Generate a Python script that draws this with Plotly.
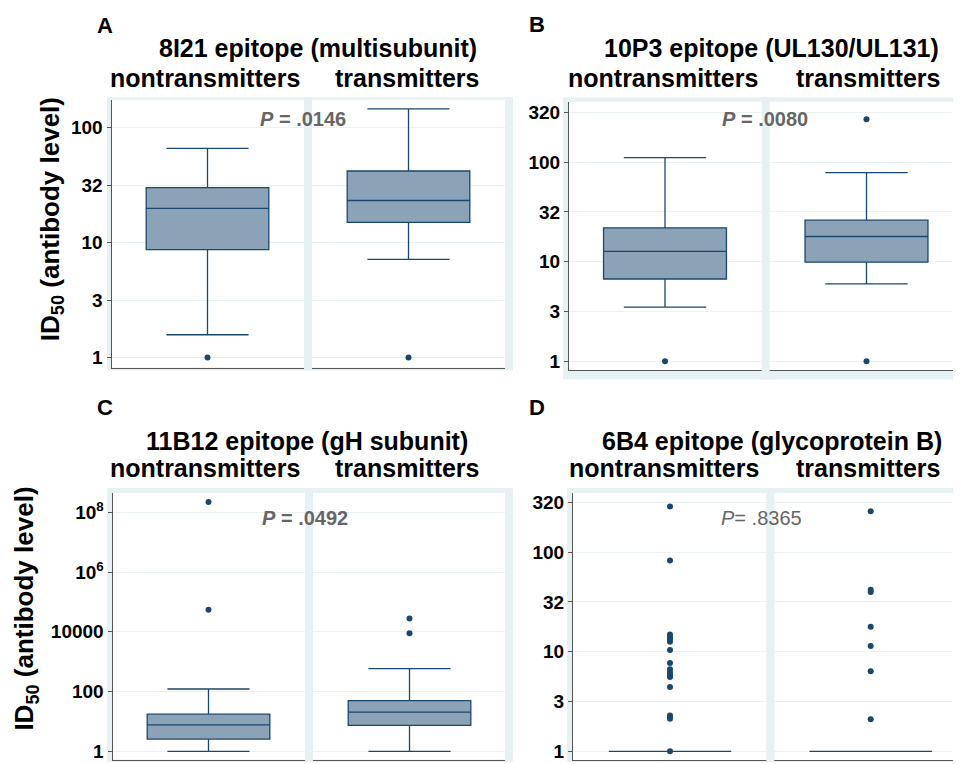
import plotly.graph_objects as go

# The page body has an 8px margin, so the figure is made 8px smaller and
# every pixel position is shifted by that margin.
PAGE_W, PAGE_H = 961, 764
OFF = 8
W, H = PAGE_W - OFF, PAGE_H - OFF

# ---------------- data ----------------
groups = ["nontransmitters", "transmitters"]
group_pos = [0, 1]

# Panel A: 8I21 epitope
a_title = "8I21 epitope (multisubunit)"
a_lowerfence = [1.58, 7.15]
a_q1 = [8.7, 15.0]
a_median = [19.8, 23.2]
a_q3 = [30.0, 41.9]
a_upperfence = [66.0, 145.0]
a_out_non = [1.0]
a_out_tr = [1.0]
a_pval = ".0146"

# Panel B: 10P3 epitope
b_title = "10P3 epitope (UL130/UL131)"
b_lowerfence = [3.5, 6.0]
b_q1 = [6.7, 9.9]
b_median = [12.7, 17.9]
b_q3 = [21.9, 26.1]
b_upperfence = [110.7, 78.3]
b_out_non = [1.0]
b_out_tr = [1.0, 269.0]
b_pval = ".0080"

# Panel C: 11B12 epitope
c_title = "11B12 epitope (gH subunit)"
c_lowerfence = [1.0, 1.0]
c_q1 = [2.57, 7.4]
c_median = [7.7, 20.4]
c_q3 = [17.5, 50.0]
c_upperfence = [122.0, 585.0]
c_out_non = [55000.0, 2.2e8]
c_out_tr = [8980.0, 27700.0]
c_pval = ".0492"

# Panel D: 6B4 epitope
d_title = "6B4 epitope (glycoprotein B)"
d_lowerfence = [1.0, 1.0]
d_q1 = [1.0, 1.0]
d_median = [1.0, 1.0]
d_q3 = [1.0, 1.0]
d_upperfence = [1.0, 1.0]
d_out_non = [1.0, 2.12, 2.2, 2.29, 4.43, 5.58, 5.84, 6.2, 6.66, 7.7, 10.4,
             12.6, 13.4, 14.1, 14.9, 82.5, 288.0]
d_out_tr = [2.1, 6.36, 11.4, 17.8, 39.8, 42.0, 257.0]
d_pval = ".8365"

# tick values / labels
half_dec_vals = [1, 3.1623, 10, 31.623, 100, 316.23]
half_dec_text = ["1", "3", "10", "32", "100", "320"]
c_tickvals = [1, 100, 1e4, 1e6, 1e8]
c_ticktext = ["1", "100", "10000", "10<sup>6</sup>", "10<sup>8</sup>"]

ytitle = "ID<sub>50</sub> (antibody level)"

# ---------------- styling ----------------
NAVY = "rgb(26,71,111)"
BOXFILL = "rgb(140,163,183)"
FRAME = "rgb(231,240,243)"
GRID = "rgb(234,242,244)"
AXIS = "#555555"
PGRAY = "#666666"
FONT = "Liberation Sans"

# pixel geometry of each panel (page pixels)
panels = [
    dict(key="A", title=a_title, lf=a_lowerfence, q1=a_q1, med=a_median, q3=a_q3, uf=a_upperfence,
         out=[a_out_non, a_out_tr], p=a_pval, pbold=True,
         plot=(111.5, 505, 99, 368), centers=(207.5, 408.5), one=358, ppd=115.5,
         frame=(107, 513, 96.5, 371), tv=half_dec_vals, tt=half_dec_text,
         letter=(105, 25), title_xy=(318, 47), sub_y=77, sub_x=(204.5, 407),
         p_xy=(303, 118), ytitle=(51, 219)),
    dict(key="B", title=b_title, lf=b_lowerfence, q1=b_q1, med=b_median, q3=b_q3, uf=b_upperfence,
         out=[b_out_non, b_out_tr], p=b_pval, pbold=True,
         plot=(569, 964, 101, 370.5), centers=(665, 866.5), one=361.7, ppd=100,
         frame=(563, 964, 96.5, 380), tv=half_dec_vals, tt=half_dec_text,
         letter=(536.5, 24), title_xy=(771.5, 47), sub_y=77, sub_x=(663, 868),
         p_xy=(765, 118), ytitle=None),
    dict(key="C", title=c_title, lf=c_lowerfence, q1=c_q1, med=c_median, q3=c_q3, uf=c_upperfence,
         out=[c_out_non, c_out_tr], p=c_pval, pbold=True,
         plot=(112.5, 505, 494, 761.5), centers=(208.5, 409.5), one=753.3, ppd=30,
         frame=(107, 513, 489, 764), tv=c_tickvals, tt=c_ticktext,
         letter=(105, 408), title_xy=(307, 442), sub_y=469, sub_x=(204.5, 407),
         p_xy=(305, 519), ytitle=(26, 610)),
    dict(key="D", title=d_title, lf=d_lowerfence, q1=d_q1, med=d_median, q3=d_q3, uf=d_upperfence,
         out=[d_out_non, d_out_tr], p=d_pval, pbold=False,
         plot=(573, 964, 494, 762), centers=(670, 870.7), one=753.3, ppd=100,
         frame=(567, 964, 489, 764), tv=half_dec_vals, tt=half_dec_text,
         letter=(536.5, 408), title_xy=(772, 442), sub_y=469, sub_x=(663.5, 868),
         p_xy=(761, 519), ytitle=None),
]


def fx(p):
    v = (p - OFF) / W
    return min(max(v, 0.0), 1.0)


def fy(p):
    v = 1 - (p - OFF) / H
    return min(max(v, 0.0), 1.0)


fig = go.Figure()
shapes = []
annotations = []
layout_axes = {}

for i, pn in enumerate(panels):
    n = i + 1
    xs = "x" if n == 1 else f"x{n}"
    ys = "y" if n == 1 else f"y{n}"
    L, R, T, B = pn["plot"]
    R = min(R, PAGE_W)
    B = min(B, PAGE_H)
    c0, c1 = pn["centers"]
    s = c1 - c0
    layout_axes["xaxis" if n == 1 else f"xaxis{n}"] = dict(
        domain=[fx(L), fx(R)], range=[(L - c0) / s, (R - c0) / s], anchor=ys,
        showgrid=False, zeroline=False, showticklabels=False, ticks="",
        showline=True, linecolor=AXIS, linewidth=1, fixedrange=True)
    layout_axes["yaxis" if n == 1 else f"yaxis{n}"] = dict(
        domain=[fy(B), fy(T)], type="log",
        range=[-(B - pn["one"]) / pn["ppd"], (pn["one"] - T) / pn["ppd"]],
        anchor=xs, showline=True, linecolor=AXIS, linewidth=1,
        ticks="outside", ticklen=4, tickcolor=AXIS, tickwidth=1,
        tickvals=pn["tv"], ticktext=pn["tt"],
        tickfont=dict(family=FONT, size=19, color="black", weight="bold"),
        showgrid=True, gridcolor=GRID, gridwidth=1, zeroline=False, fixedrange=True)

    fig.add_trace(go.Box(
        x=group_pos, q1=pn["q1"], median=pn["med"], q3=pn["q3"],
        lowerfence=pn["lf"], upperfence=pn["uf"],
        width=0.61, whiskerwidth=0.67, fillcolor=BOXFILL,
        line=dict(color=NAVY, width=1.3), boxpoints=False,
        xaxis=xs, yaxis=ys, showlegend=False, hoverinfo="skip"))
    for g, vals in zip(group_pos, pn["out"]):
        fig.add_trace(go.Scatter(
            x=[g] * len(vals), y=vals, mode="markers",
            marker=dict(color=NAVY, size=6), xaxis=xs, yaxis=ys,
            showlegend=False, hoverinfo="skip"))

    # frame + white plot region
    fl, fr, ft, fb = pn["frame"]
    shapes.append(dict(type="rect", xref="paper", yref="paper", x0=fx(fl), x1=fx(fr),
                       y0=fy(fb), y1=fy(ft), fillcolor=FRAME, line=dict(width=0), layer="below"))
    shapes.append(dict(type="rect", xref="paper", yref="paper", x0=fx(L), x1=fx(R),
                       y0=fy(B), y1=fy(T), fillcolor="white", line=dict(width=0), layer="below"))
    # separator between the two by-groups
    sep = (c0 + c1) / 2
    shapes.append(dict(type="rect", xref="paper", yref="paper", x0=fx(sep - 4), x1=fx(sep + 4),
                       y0=fy(fb), y1=fy(ft), fillcolor=FRAME, line=dict(width=0), layer="above"))

    # texts
    lx, ly = pn["letter"]
    annotations.append(dict(text=f"<b>{pn['key']}</b>", x=fx(lx), y=fy(ly), xref="paper", yref="paper",
                            showarrow=False, xanchor="center", yanchor="middle",
                            font=dict(family=FONT, size=22, color="black")))
    tx, ty = pn["title_xy"]
    annotations.append(dict(text=f"<b>{pn['title']}</b>", x=fx(tx), y=fy(ty), xref="paper", yref="paper",
                            showarrow=False, xanchor="center", yanchor="middle",
                            font=dict(family=FONT, size=25, color="black")))
    for gx, gname in zip(pn["sub_x"], groups):
        annotations.append(dict(text=f"<b>{gname}</b>", x=fx(gx), y=fy(pn["sub_y"]), xref="paper",
                                yref="paper", showarrow=False, xanchor="center", yanchor="middle",
                                font=dict(family=FONT, size=25, color="black")))
    px_, py_ = pn["p_xy"]
    if pn["pbold"]:
        ptxt = f"<b><i>P</i> = {pn['p']}</b>"
        pfont = dict(family=FONT, size=20, color=PGRAY)
    else:
        ptxt = f"<i>P</i>= {pn['p']}"
        pfont = dict(family=FONT, size=20, color=PGRAY)
    annotations.append(dict(text=ptxt, x=fx(px_), y=fy(py_), xref="paper", yref="paper",
                            showarrow=False, xanchor="center", yanchor="middle", font=pfont))
    if pn["ytitle"]:
        yx, yy = pn["ytitle"]
        annotations.append(dict(text=f"<b>{ytitle}</b>", x=fx(yx), y=fy(yy), xref="paper", yref="paper",
                                showarrow=False, xanchor="center", yanchor="middle", textangle=-90,
                                font=dict(family=FONT, size=26, color="black")))

fig.update_layout(
    width=W, height=H, margin=dict(l=0, r=0, t=0, b=0),
    paper_bgcolor="white", plot_bgcolor="white",
    shapes=shapes, annotations=annotations, showlegend=False,
    **layout_axes)

fig.write_html("out.html", config={"displayModeBar": False})
